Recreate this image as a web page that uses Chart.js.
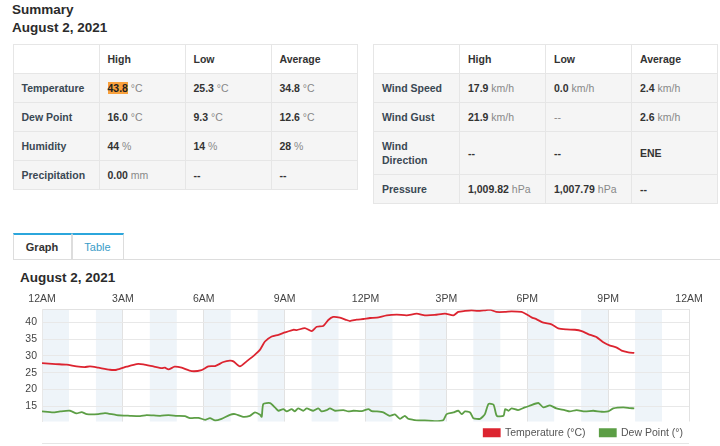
<!DOCTYPE html>
<html>
<head>
<meta charset="utf-8">
<title>Summary - August 2, 2021</title>
<script src="https://cdn.jsdelivr.net/npm/chart.js@4.4.0/dist/chart.umd.min.js"></script>
<style>
    body {
        margin: 0;
        width: 720px;
        height: 446px;
        overflow: hidden;
        position: relative;
        background: #fff;
        color: #333;
        font-family: Arial, "Liberation Sans", Helvetica, sans-serif;
    }
    .heading {
        position: absolute;
        font-size: 13.5px;
        font-weight: bold;
        line-height: 18.5px;
        color: #2b2b2b;
    }
    table.summary {
        position: absolute;
        top: 44px;
        width: 345px;
        border-collapse: collapse;
        table-layout: fixed;
        font-size: 10.5px;
    }
    table.summary th,
    table.summary td {
        border: 1px solid #e6e6e6;
        padding: 7px 8px;
        line-height: 14px;
        text-align: left;
        vertical-align: middle;
    }
    table.summary th { font-weight: bold; background: #fff; color: #333; }
    table.summary tbody td { background: #f5f5f5; color: #333; }
    table.summary td.label { font-weight: bold; color: #3a4853; }
    table.summary b { font-weight: bold; }
    table.summary .unit { color: #888; }
    .hl { background: #f9a13c; color: #222; }
    .tab {
        position: absolute;
        top: 233px;
        height: 26px;
        box-sizing: border-box;
        border-top: 2px solid #2ba6dc;
        border-left: 1px solid #ddd;
        border-right: 1px solid #ddd;
        font-size: 11px;
        line-height: 24px;
        text-align: center;
    }
    .tab.active { font-weight: bold; color: #333; }
    .tab.link { color: #3a9cc8; }
    .tab-line {
        position: absolute;
        left: 12.5px;
        top: 259px;
        width: 708px;
        height: 1px;
        background: #ddd;
    }
    .chart-box {
        position: absolute;
        left: 0;
        top: 289px;
        width: 720px;
        height: 159px;
    }
    .next-chart {
        position: absolute;
        left: 42px;
        top: 443px;
        width: 647px;
        height: 3px;
        border-top: 1px solid #e6e6e6;
    }
</style>
</head>
<body>
    <div class="heading" style="left:12px; top:0.5px;">Summary<br>August 2, 2021</div>

    <table class="summary" style="left:12.5px;">
        <thead>
            <tr><th></th><th>High</th><th>Low</th><th>Average</th></tr>
        </thead>
        <tbody>
            <tr><td class="label">Temperature</td><td><b class="hl">43.8</b> <span class="unit">°C</span></td><td><b>25.3</b> <span class="unit">°C</span></td><td><b>34.8</b> <span class="unit">°C</span></td></tr>
            <tr><td class="label">Dew Point</td><td><b>16.0</b> <span class="unit">°C</span></td><td><b>9.3</b> <span class="unit">°C</span></td><td><b>12.6</b> <span class="unit">°C</span></td></tr>
            <tr><td class="label">Humidity</td><td><b>44</b> <span class="unit">%</span></td><td><b>14</b> <span class="unit">%</span></td><td><b>28</b> <span class="unit">%</span></td></tr>
            <tr><td class="label">Precipitation</td><td><b>0.00</b> <span class="unit">mm</span></td><td><b>--</b></td><td><b>--</b></td></tr>
        </tbody>
    </table>

    <table class="summary" style="left:373px;">
        <thead>
            <tr><th></th><th>High</th><th>Low</th><th>Average</th></tr>
        </thead>
        <tbody>
            <tr><td class="label">Wind Speed</td><td><b>17.9</b> <span class="unit">km/h</span></td><td><b>0.0</b> <span class="unit">km/h</span></td><td><b>2.4</b> <span class="unit">km/h</span></td></tr>
            <tr><td class="label">Wind Gust</td><td><b>21.9</b> <span class="unit">km/h</span></td><td><span class="unit">--</span></td><td><b>2.6</b> <span class="unit">km/h</span></td></tr>
            <tr><td class="label">Wind Direction</td><td><b>--</b></td><td><b>--</b></td><td><b>ENE</b></td></tr>
            <tr><td class="label">Pressure</td><td><b>1,009.82</b> <span class="unit">hPa</span></td><td><b>1,007.79</b> <span class="unit">hPa</span></td><td><b>--</b></td></tr>
        </tbody>
    </table>

    <div class="tab active" style="left:12.5px; width:59px;">Graph</div>
    <div class="tab link" style="left:71.5px; width:52px;">Table</div>
    <div class="tab-line"></div>

    <div class="heading" style="left:20px; top:267.5px; line-height:19px;">August 2, 2021</div>

    <div class="chart-box"><canvas id="day-chart"></canvas></div>
    <div class="next-chart"></div>

<script>
// x axis: hours since midnight
const xTickLabels = ['12AM', '3AM', '6AM', '9AM', '12PM', '3PM', '6PM', '9PM', '12AM'];
const yTicks = [15, 20, 25, 30, 35, 40];
const shadedHours = [0, 2, 4, 6, 8, 10, 12, 14, 16, 18, 20, 22];

// Temperature (°C)
const tempHours = [0, 0.5, 0.92, 1.28, 1.58, 1.78, 2.09, 2.52, 2.77, 3.14, 3.51, 3.76, 4.13, 4.45, 4.56, 4.69,
    4.92, 5.18, 5.55, 5.92, 6.17, 6.42, 6.73, 6.97, 7.1, 7.34, 7.59, 7.9, 8.09, 8.27, 8.52, 8.77, 9.01, 9.32,
    9.45, 9.75, 10.0, 10.19, 10.43, 10.62, 10.8, 11.05, 11.3, 11.42, 11.67, 11.92, 12.17, 12.42, 12.79, 13.16,
    13.53, 13.9, 14.2, 14.57, 14.95, 15.26, 15.44, 15.69, 15.93, 16.17, 16.42, 16.61, 16.85, 17.17, 17.42,
    17.79, 17.97, 18.16, 18.35, 18.6, 18.9, 19.15, 19.46, 19.77, 20.02, 20.26, 20.57, 20.82, 21.07, 21.32,
    21.5, 21.75, 21.97];
const tempValues = [27.9, 27.6, 27.4, 26.9, 26.7, 26.9, 26.5, 25.9, 25.9, 26.8, 27.6, 27.5, 26.9, 26.4, 26.5, 26.0,
    26.8, 26.5, 25.5, 25.8, 26.9, 27.0, 28.2, 28.6, 28.4, 26.9, 28.4, 30.4, 31.9, 34.3, 35.8, 36.3, 37.0, 37.8,
    37.7, 38.3, 37.4, 38.7, 38.9, 40.7, 41.6, 41.4, 40.7, 40.4, 40.8, 41.0, 41.3, 41.4, 42.1, 42.3,
    42.1, 42.6, 42.1, 42.2, 42.6, 42.1, 43.1, 43.4, 43.6, 43.4, 43.6, 43.8, 43.1, 43.1, 43.3,
    43.1, 42.4, 41.5, 40.9, 39.9, 39.4, 38.2, 37.9, 37.8, 37.4, 36.5, 35.6, 34.1, 33.1, 32.5,
    31.6, 31.1, 30.9];

// Dew point (°)
const dewHours = [0, 0.41, 0.67, 1.04, 1.28, 1.47, 1.66, 2.09, 2.34, 2.77, 3.26, 3.64, 3.88, 4.38, 4.69, 5.0,
    5.3, 5.49, 5.8, 6.05, 6.23, 6.42, 6.66, 6.97, 7.16, 7.46, 7.71, 7.9, 8.09, 8.15, 8.21, 8.46, 8.64, 8.77,
    8.95, 9.08, 9.26, 9.38, 9.5, 9.69, 9.82, 10.06, 10.25, 10.37, 10.56, 10.68, 10.87, 11.18, 11.36, 11.55,
    11.86, 12.11, 12.23, 12.42, 12.66, 12.9, 13.09, 13.28, 13.46, 13.58, 13.77, 13.96, 14.2, 14.57, 14.88,
    15.01, 15.26, 15.44, 15.57, 15.69, 15.88, 16.0, 16.25, 16.43, 16.56, 16.75, 16.87, 17.12, 17.18, 17.3,
    17.42, 17.66, 17.91, 18.1, 18.41, 18.6, 18.84, 19.08, 19.39, 19.58, 19.83, 20.14, 20.45, 20.76, 21.0,
    21.19, 21.56, 21.81, 21.97];
const dewValues = [13.5, 13.2, 13.5, 13.7, 12.9, 13.3, 12.7, 12.7, 13.0, 12.4, 12.2, 12.1, 12.4, 12.2, 12.4, 12.2,
    12.1, 11.5, 11.6, 11.0, 11.5, 10.8, 11.3, 12.5, 12.7, 11.9, 12.2, 13.2, 12.5, 11.9, 15.7, 16.0, 14.7, 13.7,
    14.2, 13.5, 14.2, 13.5, 14.4, 13.7, 14.4, 13.7, 14.4, 13.5, 13.9, 14.4, 13.7, 13.9, 13.5, 13.7,
    13.6, 14.2, 13.6, 13.5, 13.2, 12.2, 12.6, 11.3, 12.2, 11.3, 11.0, 10.8, 10.8, 10.6, 10.9,
    12.7, 13.2, 13.7, 12.7, 13.5, 13.2, 11.5, 11.3, 12.7, 15.7, 15.5, 12.2, 12.2, 14.2, 13.7,
    14.4, 13.9, 14.7, 15.2, 16.0, 14.7, 15.3, 14.4, 13.9, 13.5, 13.9, 13.5, 13.7, 13.4, 13.5,
    14.4, 14.7, 14.5, 14.4];

document.addEventListener('DOMContentLoaded', () => {
    const canvas = document.getElementById('day-chart');

    // 짝수 시간대 배경 띠
    const hourBands = {
        id: 'hourBands',
        beforeDraw(chart) {
            const { ctx, chartArea, scales } = chart;
            ctx.save();
            ctx.fillStyle = '#eef4f9';
            shadedHours.forEach(h => {
                const x0 = scales.x.getPixelForValue(h);
                const x1 = scales.x.getPixelForValue(h + 1);
                ctx.fillRect(x0, chartArea.top, x1 - x0, chartArea.bottom - chartArea.top);
            });
            ctx.restore();
        }
    };

    const tickFont = { family: 'Arial, "Liberation Sans", sans-serif', size: 10.5 };

    new Chart(canvas, {
        type: 'line',
        data: {
            datasets: [
                {
                    label: 'Temperature (°C)',
                    data: tempHours.map((h, i) => ({ x: h, y: tempValues[i] })),
                    borderColor: '#dc2430',
                    backgroundColor: '#dc2430',
                    borderWidth: 1.8,
                    pointRadius: 0,
                    tension: 0.2
                },
                {
                    label: 'Dew Point (°)',
                    data: dewHours.map((h, i) => ({ x: h, y: dewValues[i] })),
                    borderColor: '#5c9e45',
                    backgroundColor: '#5c9e45',
                    borderWidth: 1.8,
                    pointRadius: 0,
                    tension: 0.2
                }
            ]
        },
        options: {
            responsive: true,
            maintainAspectRatio: false,
            animation: false,
            layout: { padding: { left: 0, right: 31, top: 0, bottom: 0 } },
            plugins: {
                tooltip: { enabled: false },
                legend: {
                    position: 'bottom',
                    align: 'end',
                    labels: {
                        boxWidth: 16,
                        boxHeight: 7,
                        padding: 6,
                        color: '#555',
                        font: tickFont,
                        generateLabels: (chart) => {
                            const items = Chart.defaults.plugins.legend.labels.generateLabels(chart);
                            // 항목 사이 간격
                            items[0].text += '\u2002 ';
                            return items;
                        }
                    }
                }
            },
            scales: {
                x: {
                    type: 'linear',
                    position: 'top',
                    min: 0,
                    max: 24,
                    ticks: {
                        stepSize: 3,
                        padding: 4,
                        color: '#444',
                        font: tickFont,
                        maxRotation: 0,
                        callback: (value) => xTickLabels[value / 3]
                    },
                    grid: { color: '#e2e2e2', drawTicks: false },
                    border: { color: '#e2e2e2' }
                },
                y: {
                    min: 10.5,
                    max: 43.8,
                    afterBuildTicks: (scale) => {
                        scale.ticks = yTicks.map(v => ({ value: v }));
                    },
                    afterFit: (scale) => {
                        scale.width = 42;
                    },
                    ticks: {
                        padding: 5,
                        color: '#444',
                        font: tickFont
                    },
                    grid: { color: '#e8e8e8', drawTicks: false },
                    border: { color: '#e8e8e8' }
                }
            }
        },
        plugins: [hourBands]
    });
});
</script>
</body>
</html>
